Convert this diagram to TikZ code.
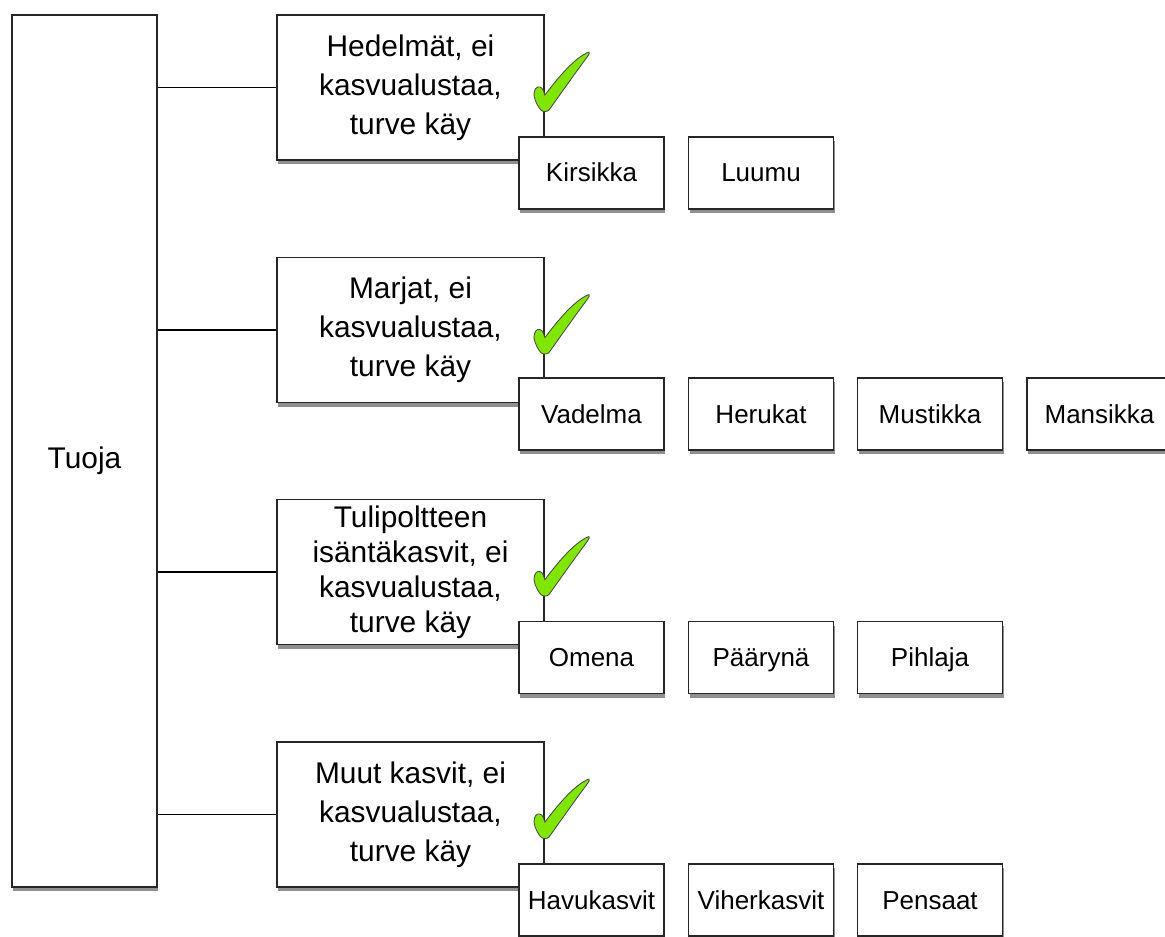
\documentclass[tikz,border=0pt]{standalone}
\usepackage{fontspec}
\setmainfont{Liberation Sans}
\usetikzlibrary{shadows,calc}
\definecolor{tickgreen}{RGB}{128,230,0}
\begin{document}
\begin{tikzpicture}[x=0.02cm,y=-0.02cm]
\tikzstyle{every node}+=[inner sep=0pt]
\tikzstyle{box}=[draw=black!85,line width=1.1pt,fill=white,drop shadow={shadow xshift=0.8pt,shadow yshift=-2.4pt,opacity=0.55,fill=black!80}]
\tikzstyle{group}=[box,minimum width=5.34cm,minimum height=2.9cm,align=center,font=\fontsize{17}{22.3}\selectfont]
\tikzstyle{plant}=[box,minimum width=2.9cm,minimum height=1.44cm,text height=0.44cm,text depth=0.08cm,font=\fontsize{14.8}{18}\selectfont]
\tikzstyle{link}=[black,line width=0.8pt]
\tikzset{tick/.pic={
  \fill[tickgreen,draw=black!70,line width=0.5pt] (-11,-16) .. controls (-11,-22) and (-8,-25) .. (-5,-24)
    .. controls (-2,-23) and (-1,-19) .. (0,-16) .. controls (12,-32) and (30,-54) .. (44,-59)
    .. controls (45,-58) .. (40,-51) .. controls (28,-35) and (12,-12) .. (4,-1)
    .. controls (2,1) and (-2,1) .. (-4,-1) .. controls (-6,-3) and (-10,-9) .. cycle;
}}
\useasboundingbox (0,0) rectangle (1165,936);
\clip (0,0) rectangle (1165,936);
% importer
\node[box,minimum width=2.9cm,minimum height=17.44cm,text height=0.8cm,text depth=0.12cm,font=\fontsize{17}{20}\selectfont] (tuoja) at (84.5,451) {Tuoja};
% groups
\node[group] (hedelmat) at (410.5,87.5) {Hedelmät, ei\\kasvualustaa,\\turve käy};
\node[group] (marjat) at (410.5,330) {Marjat, ei\\kasvualustaa,\\turve käy};
\node[group,font=\fontsize{17}{19.9}\selectfont] (tuli) at (410.5,572) {Tulipoltteen\\isäntäkasvit, ei\\kasvualustaa,\\turve käy};
\node[group] (muut) at (410.5,814.5) {Muut kasvit, ei\\kasvualustaa,\\turve käy};
\foreach \g in {hedelmat,marjat,tuli,muut}
  \draw[link] (\g.west) -- (\g.west -| tuoja.east);
% plants
\node[plant] (kirsikka) at (591.5,173) {Kirsikka};
\node[plant] (luumu) at (761,173) {Luumu};
\node[plant] (vadelma) at (591.5,414) {Vadelma};
\node[plant] (herukat) at (761,414) {Herukat};
\node[plant] (mustikka) at (930,414) {Mustikka};
\node[plant] (mansikka) at (1099.5,414) {Mansikka};
\node[plant] (omena) at (591.5,657.5) {Omena};
\node[plant] (paaryna) at (761,657.5) {Päärynä};
\node[plant] (pihlaja) at (930,657.5) {Pihlaja};
\node[plant] (havu) at (591.5,900) {Havukasvit};
\node[plant] (viher) at (761,900) {Viherkasvit};
\node[plant] (pensaat) at (930,900) {Pensaat};
% ticks
\foreach \g in {hedelmat,marjat,tuli,muut}
  \pic at ($(\g.north east)+(0,97)$) {tick};
\end{tikzpicture}
\end{document}
